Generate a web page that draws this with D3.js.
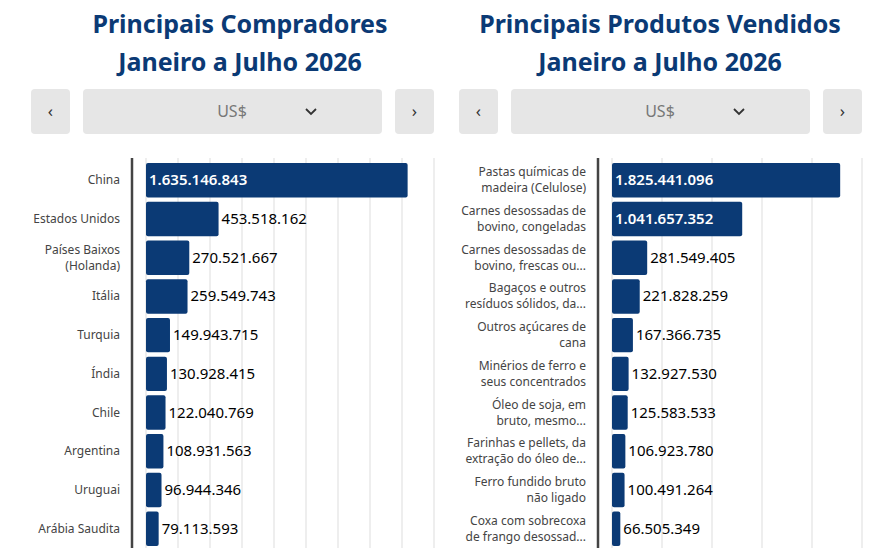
<!DOCTYPE html><html><head><meta charset="utf-8"><script src="https://cdn.jsdelivr.net/npm/d3@7"></script>
<style>body{margin:0;background:#fff}text{font-family:"Noto Sans",sans-serif}</style></head><body><svg id="c" width="889" height="548"></svg>
<script>
const buyers=["China","Estados Unidos","Países Baixos\n(Holanda)","Itália","Turquia","Índia","Chile","Argentina","Uruguai","Arábia Saudita"];
const buyerValues=[1635146843,453518162,270521667,259549743,149943715,130928415,122040769,108931563,96944346,79113593];
const products=["Pastas químicas de\nmadeira (Celulose)","Carnes desossadas de\nbovino, congeladas","Carnes desossadas de\nbovino, frescas ou...","Bagaços e outros\nresíduos sólidos, da...","Outros açúcares de\ncana","Minérios de ferro e\nseus concentrados","Óleo de soja, em\nbruto, mesmo...","Farinhas e pellets, da\nextração do óleo de...","Ferro fundido bruto\nnão ligado","Coxa com sobrecoxa\nde frango desossad..."];
const productValues=[1825441096,1041657352,281549405,221828259,167366735,132927530,125583533,106923780,100491264,66505349];
const titles=[["Principais Compradores","Janeiro a Julho 2026"],["Principais Produtos Vendidos","Janeiro a Julho 2026"]];
const svg=d3.select("#c");
const fmt=v=>d3.format(",")(v).replace(/,/g,".");
function panel(cx,axisX,x0,x1,max,step,cats,vals,title,btn){
  title.forEach((t,i)=>svg.append("text").attr("x",cx).attr("y",33+i*38).attr("text-anchor","middle")
    .attr("font-size",25).attr("font-weight",700).attr("fill","#0b3a75").text(t));
  const b=[[btn,39],[btn+52,299],[btn+364,39]];
  b.forEach(([x,w])=>svg.append("rect").attr("x",x).attr("y",89).attr("width",w).attr("height",45).attr("rx",4).attr("fill","#e6e6e6"));
  svg.append("text").attr("x",btn+19.5).attr("y",117).attr("text-anchor","middle").attr("font-size",17).attr("fill","#333").text("‹");
  svg.append("text").attr("x",btn+383.5).attr("y",117).attr("text-anchor","middle").attr("font-size",17).attr("fill","#333").text("›");
  svg.append("text").attr("x",btn+201).attr("y",117).attr("text-anchor","middle").attr("font-size",16).attr("fill","#777").text("US$");
  svg.append("path").attr("d",`M${btn+275},${109}l5,5l5,-5`).attr("fill","none").attr("stroke","#333").attr("stroke-width",1.8);
  const x=d3.scaleLinear().domain([0,max]).range([x0,x1]);
  const y=d3.scaleBand().domain(cats).range([161,548]).paddingInner(0.11).paddingOuter(0.05);
  svg.append("g").selectAll("line").data(d3.range(0,max+1,step)).join("line")
    .attr("x1",d=>x(d)).attr("x2",d=>x(d)).attr("y1",158).attr("y2",548).attr("stroke","#ddd");
  svg.append("line").attr("x1",axisX).attr("x2",axisX).attr("y1",158).attr("y2",548).attr("stroke","#444").attr("stroke-width",2.5);
  cats.forEach((c,i)=>{
    const v=vals[i],yy=y(c),h=y.bandwidth(),w=x(v)-x0;
    svg.append("rect").attr("x",x0).attr("y",yy).attr("width",w).attr("height",h).attr("rx",2).attr("fill","#0b3a75");
    const inside=w>120;
    svg.append("text").attr("x",inside?x0+3:x(v)+3).attr("y",yy+h/2+5).attr("font-size",15)
      .attr("font-weight",inside?600:400).attr("fill",inside?"#fff":"#000").text(fmt(v));
    const lines=c.split("\n");
    lines.forEach((l,j)=>svg.append("text").attr("x",axisX-12).attr("y",yy+h/2+4+(j-(lines.length-1)/2)*16)
      .attr("text-anchor","end").attr("font-size",12).attr("fill","#444").text(l));
  });
}
panel(240,132,146,434,1.8e9,2e8,buyers,buyerValues,titles[0],31);
panel(660,598,612,862,2.0e9,4e8,products,productValues,titles[1],459);
</script></body></html>
